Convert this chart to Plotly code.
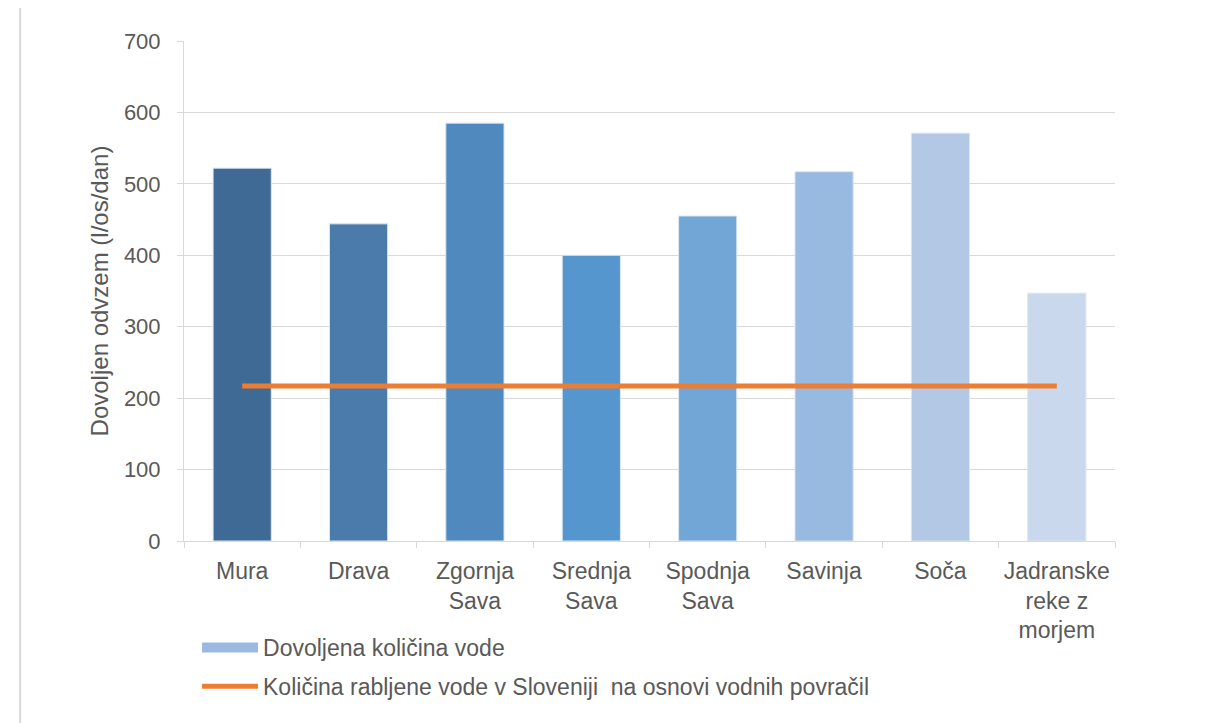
import plotly.graph_objects as go

categories = ["Mura", "Drava", "Zgornja<br>Sava", "Srednja<br>Sava", "Spodnja<br>Sava",
              "Savinja", "Soča", "Jadranske<br>reke z<br>morjem"]
allowed = [522, 444, 585, 400, 455, 517, 571, 347]
used = [217, 217, 217, 217, 217, 217, 217, 217]
bar_colors = ["#3E6A95", "#4A7BAB", "#5089BD", "#5596CE", "#72A6D7", "#98BAE0", "#B3C8E5", "#CAD8EE"]
tick_vals = [0, 100, 200, 300, 400, 500, 600, 700]

name_bar = "Dovoljena količina vode"
name_line = "Količina rabljene vode v Sloveniji  na osnovi vodnih povračil"

fig = go.Figure()
fig.add_trace(go.Bar(x=categories, y=allowed,
                     marker=dict(color=bar_colors, line=dict(color="#DCE6F2", width=1)),
                     width=0.5, showlegend=False, name=name_bar))
# legend entry for the bar series (wide swatch like the original)
fig.add_trace(go.Scatter(x=[None], y=[None], mode="lines", line=dict(color="#9BB9E0", width=14),
                         name=name_bar, legendgroup="a", showlegend=True))
fig.add_trace(go.Scatter(x=categories, y=used, mode="lines", line=dict(color="#ED7D31", width=5),
                         name=name_line, legendgroup="b"))

font = dict(family="Liberation Sans, Arial, sans-serif", color="#595959")
fig.update_layout(
    width=1201, height=715,
    margin=dict(l=176, r=94, t=33, b=182),
    paper_bgcolor="white", plot_bgcolor="white",
    font=dict(size=22, **font),
    xaxis=dict(showline=True, linecolor="#D9D9D9", linewidth=1, ticks="outside", tickson="boundaries",
               ticklen=6, tickcolor="#D9D9D9", tickfont=dict(size=23), showgrid=False,
               ticklabelstandoff=9),
    yaxis=dict(range=[0, 700], tickvals=tick_vals, showgrid=True, gridcolor="#D9D9D9", gridwidth=1,
               showline=True, linecolor="#D9D9D9", ticks="outside", ticklen=6, tickcolor="#D9D9D9",
               tickfont=dict(size=22), zeroline=False, ticklabelstandoff=12,
               title=dict(text="Dovoljen odvzem (l/os/dan)", font=dict(size=24), standoff=8)),
    legend=dict(x=0.014, y=-0.17, xanchor="left", yanchor="top", orientation="v",
                font=dict(size=23, **font), itemwidth=56, bgcolor="rgba(0,0,0,0)", tracegroupgap=6),
    shapes=[dict(type="line", xref="paper", yref="paper", x0=-0.176, x1=-0.176, y0=-0.364, y1=1.072,
                 line=dict(color="#D9D9D9", width=2))],
)
fig.write_html("out.html")
